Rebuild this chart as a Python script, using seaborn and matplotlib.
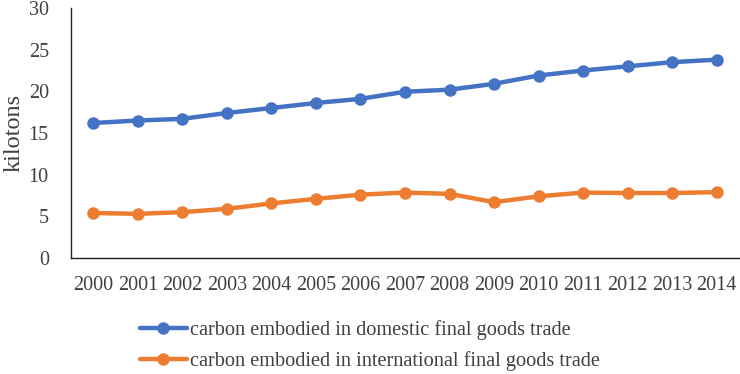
import numpy as np
import pandas as pd
import matplotlib
matplotlib.use('Agg')
import matplotlib.pyplot as plt
import seaborn as sns

years = [str(y) for y in range(2000, 2015)]
domestic = [16.2, 16.5, 16.7, 17.4, 18.0, 18.6, 19.1, 19.95, 20.2, 20.9, 21.9, 22.5, 23.0, 23.5, 23.8]
international = [5.4, 5.3, 5.5, 5.9, 6.55, 7.1, 7.6, 7.85, 7.7, 6.7, 7.4, 7.85, 7.8, 7.8, 7.9]
series_names = ['carbon embodied in domestic final goods trade',
                'carbon embodied in international final goods trade']
colors = ['#4472C4', '#ED7D31']

df = pd.DataFrame({
    'year': years * 2,
    'value': domestic + international,
    'series': [series_names[0]] * len(years) + [series_names[1]] * len(years),
})

sns.set_theme(style='white')
plt.rcParams['font.family'] = ['Liberation Serif', 'DejaVu Serif']
text_color = '#404040'

fig = plt.figure(figsize=(7.4, 3.74), dpi=100)
ax = fig.add_axes([71 / 740, 1 - 258 / 374, 668 / 740, 250 / 374])

sns.lineplot(data=df, x='year', y='value', hue='series', palette=colors,
             marker='o', markersize=9, markeredgewidth=0, linewidth=3.2,
             sort=False, ax=ax)

ax.set_xlim(-0.5, len(years) - 0.5)
ax.set_ylim(0, 30)
ax.set_yticks(np.arange(0, 31, 5))
ax.set_xlabel('')
ax.set_ylabel('kilotons', fontsize=17.5, color=text_color, labelpad=3)
ax.tick_params(axis='both', length=0, labelsize=14.5, colors=text_color)
ax.tick_params(axis='x', pad=13)
ax.tick_params(axis='y', pad=16)

for side in ['top', 'right']:
    ax.spines[side].set_visible(False)
for side in ['left', 'bottom']:
    ax.spines[side].set_color('#222222')
    ax.spines[side].set_linewidth(1.0)

handles, labels = ax.get_legend_handles_labels()
ax.get_legend().remove()
fig.legend(handles, labels, loc='upper left', bbox_to_anchor=(130 / 740, 1 - 310 / 374),
           frameon=False, fontsize=14.6, labelcolor=text_color,
           handlelength=2.3, handletextpad=0.15, labelspacing=0.55, borderpad=0)

fig.savefig('out.png', dpi=100)
